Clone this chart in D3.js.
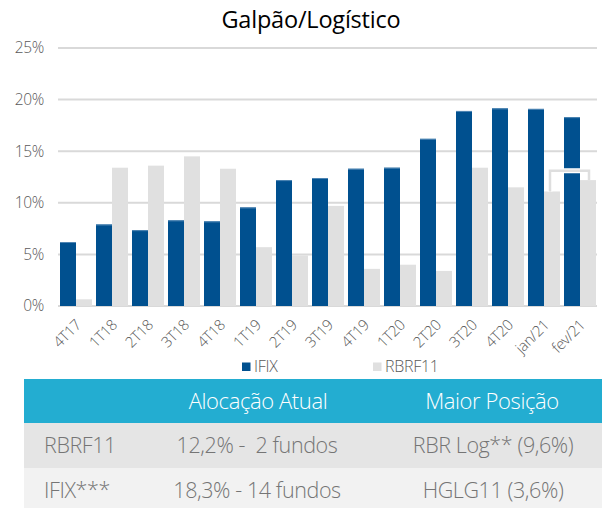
<!DOCTYPE html>
<html>
<head>
<meta charset="utf-8">
<title>Galpão/Logístico</title>
<script src="https://cdn.jsdelivr.net/npm/d3@7"></script>
<style>
  body { margin: 0; background: #fff; }
  svg { display: block; font-family: "Open Sans", sans-serif; }
</style>
</head>
<body>
<svg id="chart" width="602" height="508"></svg>
<script>
// data
var categories = ["4T17","1T18","2T18","3T18","4T18","1T19","2T19","3T19","4T19","1T20","2T20","3T20","4T20","jan/21","fev/21"];
var ifix   = [6.2, 7.9, 7.35, 8.3, 8.2, 9.55, 12.2, 12.4, 13.3, 13.4, 16.2, 18.9, 19.15, 19.1, 18.3];
var rbrf11 = [0.65, 13.4, 13.6, 14.5, 13.3, 5.7, 4.9, 9.7, 3.6, 4.0, 3.4, 13.4, 11.5, 11.1, 12.2];
var yTicks = [0, 5, 10, 15, 20, 25];
var seriesNames = ["IFIX", "RBRF11"];
var colors = ["#00508f", "#e0e0e0"];

var tableHeader = ["", "Alocação Atual", "Maior Posição"];
var tableRows = [
  ["RBRF11", "12,2% -  2 fundos", "RBR Log** (9,6%)"],
  ["IFIX***", "18,3% - 14 fundos", "HGLG11 (3,6%)"]
];

var svg = d3.select("#chart");

// title
svg.append("text")
  .attr("x", 311).attr("y", 28)
  .attr("text-anchor", "middle")
  .attr("font-size", 23.5)
  .attr("fill", "#000")
  .attr("letter-spacing", -0.2)
  .text("Galpão/Logístico");

var x = d3.scaleBand().domain(categories).range([58, 598]).paddingInner(0).paddingOuter(0);
var y = d3.scaleLinear().domain([0, 25]).range([306, 48]);
var sub = d3.scaleBand().domain(seriesNames).range([2, x.bandwidth() - 2]);

// gridlines
svg.append("g").selectAll("line")
  .data(yTicks)
  .enter().append("line")
  .attr("x1", 58).attr("x2", 597)
  .attr("y1", function(d) { return y(d); })
  .attr("y2", function(d) { return y(d); })
  .attr("stroke", "#d9d9d9")
  .attr("stroke-width", 2);

// y axis labels
var yAxis = d3.axisLeft(y).tickValues(yTicks).tickSize(0).tickPadding(0)
  .tickFormat(function(d) { return d + "%"; });
var ya = svg.append("g").attr("transform", "translate(44,0)").call(yAxis);
ya.select(".domain").remove();
ya.selectAll("text").attr("font-size", 15.5).attr("font-weight", 300)
  .attr("fill", "#595959").attr("letter-spacing", -0.3)
  .attr("font-family", "Open Sans, sans-serif");

// bars
var groups = svg.append("g").selectAll("g")
  .data(categories)
  .enter().append("g")
  .attr("transform", function(d) { return "translate(" + x(d) + ",0)"; });

groups.append("rect")
  .attr("x", sub("IFIX"))
  .attr("width", sub.bandwidth())
  .attr("y", function(d, i) { return y(ifix[i]); })
  .attr("height", function(d, i) { return y(0) - y(ifix[i]); })
  .attr("fill", colors[0]);
// thin light edge on top of blue bars
groups.append("rect")
  .attr("x", sub("IFIX"))
  .attr("width", sub.bandwidth())
  .attr("y", function(d, i) { return y(ifix[i]); })
  .attr("height", 1)
  .attr("fill", "#4f86b4");

groups.append("rect")
  .attr("x", sub("RBRF11"))
  .attr("width", sub.bandwidth())
  .attr("y", function(d, i) { return y(rbrf11[i]); })
  .attr("height", function(d, i) { return y(0) - y(rbrf11[i]); })
  .attr("fill", colors[1]);

// x axis labels
var xAxis = d3.axisBottom(x).tickSize(0).tickPadding(0);
var xa = svg.append("g").attr("transform", "translate(0,306)").call(xAxis);
xa.select(".domain").remove();
xa.selectAll("text")
  .attr("font-size", 15)
  .attr("font-weight", 300)
  .attr("letter-spacing", -0.4)
  .attr("fill", "#595959")
  .attr("font-family", "Open Sans, sans-serif")
  .attr("text-anchor", "end")
  .attr("dy", null)
  .attr("y", 0)
  .attr("transform", "translate(6,20) rotate(-45)");

// bracket annotation over last two RBRF11 bars
var jan = categories.length - 2, fev = categories.length - 1;
var bx1 = x(categories[jan]) + sub("RBRF11") + 6;
var bx2 = x(categories[fev]) + sub("RBRF11") + 9;
var bTop = y(13.1);
var bracket = "M" + bx1 + "," + y(rbrf11[jan]) + "V" + bTop + "H" + bx2 + "V" + y(rbrf11[fev]);
svg.append("path").attr("d", bracket).attr("fill", "none")
  .attr("stroke", "#fff").attr("stroke-width", 5);
svg.append("path").attr("d", bracket).attr("fill", "none")
  .attr("stroke", "#dedede").attr("stroke-width", 2.5);

// legend
var legend = svg.append("g").selectAll("g")
  .data(seriesNames)
  .enter().append("g")
  .attr("transform", function(d, i) { return "translate(" + [242, 373][i] + ",362.5)"; });
legend.append("rect").attr("width", 8.5).attr("height", 8.5)
  .attr("fill", function(d, i) { return colors[i]; });
legend.append("text").attr("x", 12).attr("y", 9.5)
  .attr("font-size", 16).attr("font-weight", 300)
  .attr("letter-spacing", -0.3)
  .attr("fill", "#595959")
  .text(function(d) { return d; });

// table
var tbl = svg.append("g");
tbl.append("rect").attr("x", 24).attr("y", 379).attr("width", 578).attr("height", 44).attr("fill", "#23add1");
tbl.append("rect").attr("x", 24).attr("y", 423).attr("width", 578).attr("height", 45).attr("fill", "#e5e5e5");
tbl.append("rect").attr("x", 24).attr("y", 468).attr("width", 578).attr("height", 40).attr("fill", "#f2f2f2");

var headX = [44, 258, 492];
tbl.selectAll("text.h")
  .data(tableHeader)
  .enter().append("text")
  .attr("class", "h")
  .attr("x", function(d, i) { return headX[i]; })
  .attr("y", 409)
  .attr("text-anchor", "middle")
  .attr("font-size", 22)
  .attr("font-weight", 300)
  .attr("letter-spacing", -0.4)
  .attr("fill", "#fff")
  .text(function(d) { return d; });

var cellX = [44, 257, 493];
tableRows.forEach(function(row, r) {
  tbl.selectAll("text.r" + r)
    .data(row)
    .enter().append("text")
    .attr("class", "r" + r)
    .attr("x", function(d, i) { return cellX[i]; })
    .attr("y", 453 + r * 45)
    .attr("text-anchor", function(d, i) { return i === 0 ? "start" : "middle"; })
    .attr("font-size", 21.5)
    .attr("font-weight", 300)
    .attr("letter-spacing", -0.4)
    .attr("xml:space", "preserve")
    .attr("fill", "#757575")
    .text(function(d) { return d; });
});
</script>
</body>
</html>
